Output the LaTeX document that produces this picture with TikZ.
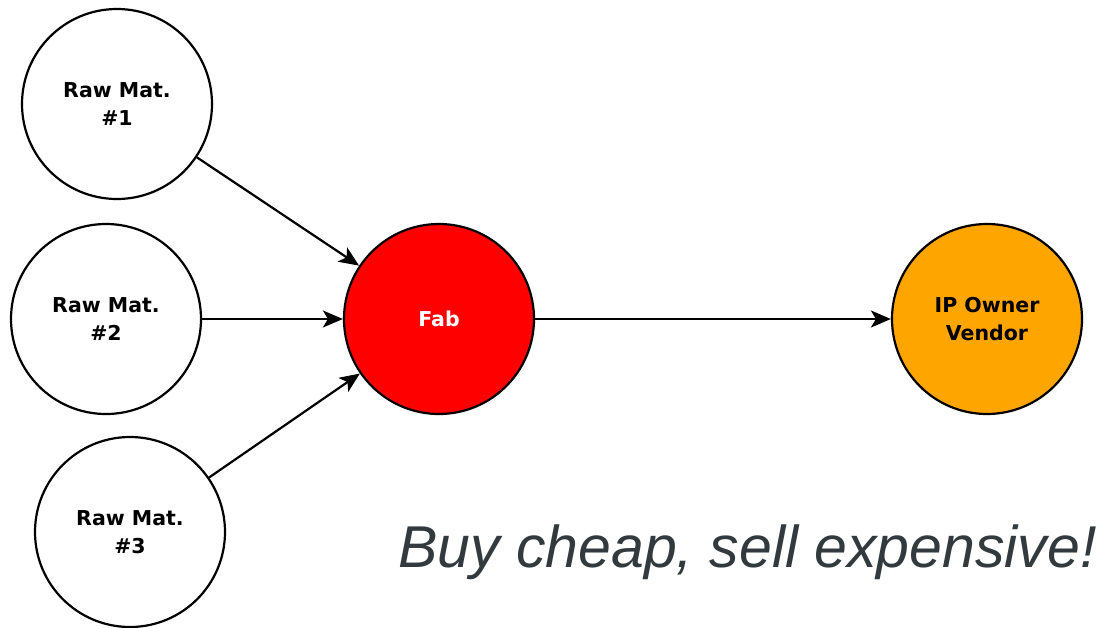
\documentclass[tikz,border=0pt]{standalone}
\usepackage{fontspec}
\setmainfont{Liberation Sans}
\newfontfamily\labelfont{DejaVu Sans}
\usetikzlibrary{arrows.meta}
\definecolor{tagcol}{RGB}{51,58,61}
\definecolor{ipcol}{RGB}{255,165,0}
\tikzset{
  actor/.style={circle, draw=black, line width=2.2pt, minimum size=190pt, inner sep=0pt, align=center,
    font=\labelfont\bfseries\fontsize{20.5}{28}\selectfont},
  flow/.style={line width=2.2pt, -{Stealth[length=20pt,width=17pt,inset=5pt]}},
}
\begin{document}
\begin{tikzpicture}[x=1pt,y=-1pt]
\useasboundingbox (0,0) rectangle (1097,627);
\node[actor, fill=white] (r1) at (117,104) {Raw Mat.\\\#1};
\node[actor, fill=white] (r2) at (106,319) {Raw Mat.\\\#2};
\node[actor, fill=white] (r3) at (130,532) {Raw Mat.\\\#3};
\node[actor, fill=red, text=white] (fab) at (439,319) {Fab};
\node[actor, fill=ipcol] (ip) at (987,319) {IP Owner\\Vendor};
\draw[flow] (r1) -- (fab);
\draw[flow] (r2) -- (fab);
\draw[flow] (r3) -- (fab);
\draw[flow] (fab) -- (ip);
\node[anchor=base west, inner sep=0pt, text=tagcol, font=\itshape\fontsize{59}{62}\selectfont] (tag) at (398,567) {Buy cheap, sell expensive!};
\end{tikzpicture}
\end{document}
